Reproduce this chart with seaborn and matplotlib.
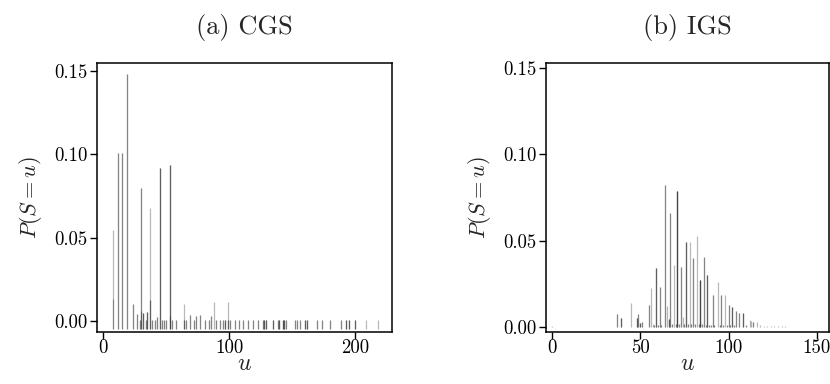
import numpy as np
import seaborn as sns
import matplotlib
matplotlib.use("Agg")
import matplotlib.pyplot as plt

# (a) CGS: sum value u, probability, number of overlapping components at u
u_a = [8, 8, 12, 15, 19, 24, 27, 29, 30, 30, 32, 34, 35, 37, 37, 39, 41, 43, 45, 47,
       48, 50, 53, 53, 55, 58, 64, 64, 66, 69, 72, 74, 77, 81, 84, 86, 88, 90, 93, 95,
       97, 99, 99, 101, 105, 108, 111, 115, 119, 123, 127, 128, 129, 135, 139, 140,
       143, 144, 145, 152, 154, 156, 160, 162, 170, 174, 180, 189, 193, 195, 200, 209, 218]
p_a = [0.0546, 0.0136, 0.1006, 0.1006, 0.148, 0.0106, 0.0042, 0.001, 0.080, 0.0062,
       0.005, 0.001, 0.0056, 0.068, 0.013, 0.001, 0.001, 0.0026, 0.092, 0.001,
       0.001, 0.001, 0.0934, 0.003, 0.001, 0.001, 0.0106, 0.001, 0.0005, 0.0036,
       0.0005, 0.003, 0.0036, 0.0005, 0.0008, 0.003, 0.0116, 0.0005, 0.0005, 0.0005,
       0.0005, 0.0116, 0.0005, 0.0005, 0.0005, 0.0005, 0.0005, 0.0005, 0.0005, 0.0005,
       0.0005, 0.0005, 0.0005, 0.0005, 0.0005, 0.0005, 0.0005, 0.0005, 0.0005, 0.0005,
       0.0005, 0.0005, 0.0005, 0.0005, 0.0005, 0.0005, 0.0005, 0.0005, 0.0005, 0.0005,
       0.0005, 0.0005, 0.0005]
n_a = [1, 1, 2, 2, 2, 2, 2, 2, 2, 1, 3, 2, 3, 1, 2, 2, 2, 2, 3, 2,
       2, 2, 3, 1, 2, 2, 1, 2, 2, 2, 2, 2, 2, 2, 2, 2, 1, 2, 2, 2,
       3, 1, 2, 2, 2, 2, 2, 2, 2, 2, 2, 3, 3, 3, 2, 3, 3, 3, 2, 2,
       2, 2, 3, 3, 2, 2, 2, 2, 3, 3, 3, 1, 1]

# (b) IGS
u_b = [0, 37, 39, 45, 48, 49, 50, 51, 55, 56, 57, 58, 59, 60, 61, 62, 64, 65, 66, 67,
       68, 69, 70, 71, 72, 73, 74, 75, 76, 77, 78, 79, 80, 81, 82, 83, 84, 85, 86, 87,
       88, 89, 90, 91, 92, 94, 95, 96, 97, 98, 99, 100, 101, 102, 103, 104, 106, 108,
       110, 112, 113, 114, 116, 118, 120, 122, 124, 126, 128, 130, 132]
p_b = [0.0005, 0.0079, 0.0052, 0.014, 0.0052, 0.0079, 0.0025, 0.003, 0.013, 0.0225,
       0.002, 0.001, 0.034, 0.001, 0.0235, 0.001, 0.0823, 0.012, 0.005, 0.066,
       0.002, 0.036, 0.002, 0.079, 0.002, 0.035, 0.006, 0.002, 0.049, 0.002,
       0.049, 0.002, 0.040, 0.002, 0.053, 0.002, 0.0275, 0.002, 0.0405, 0.001,
       0.030, 0.001, 0.001, 0.0185, 0.001, 0.026, 0.001, 0.0187, 0.001, 0.0187,
       0.001, 0.013, 0.001, 0.0115, 0.001, 0.0096, 0.0083, 0.0083, 0.001, 0.0044,
       0.0035, 0.0032, 0.003, 0.0015, 0.0008, 0.0008, 0.0008, 0.0006, 0.0006, 0.0005, 0.0005]
n_b = [1, 2, 3, 1, 3, 2, 3, 2, 2, 1, 1, 2, 3, 2, 2, 2, 2, 1, 3, 2,
       2, 1, 2, 4, 2, 2, 1, 2, 3, 2, 1, 2, 2, 2, 1, 2, 4, 2, 2, 2,
       3, 2, 2, 2, 2, 1, 2, 2, 2, 1, 2, 2, 2, 3, 2, 2, 2, 3, 2, 1,
       1, 2, 1, 1, 1, 1, 1, 1, 1, 1, 1]

titles = ["(a) CGS", "(b) IGS"]
xticks_a = [0, 100, 200]
xticks_b = [0, 50, 100, 150]
yticks = [0.00, 0.05, 0.10, 0.15]
ytick_labels = ["0.00", "0.05", "0.10", "0.15"]

sns.set_theme(style="ticks")
plt.rcParams["font.family"] = ["cmr10", "DejaVu Serif"]
plt.rcParams["mathtext.fontset"] = "cm"
plt.rcParams["axes.unicode_minus"] = False
plt.rcParams["axes.formatter.use_mathtext"] = True

fig = plt.figure(figsize=(8.3, 3.84), dpi=100)
ax_a = fig.add_axes([0.1169, 0.1354, 0.3554, 0.7006])
ax_b = fig.add_axes([0.6578, 0.1354, 0.341, 0.7006])

panels = [
    (ax_a, u_a, p_a, n_a, -0.0044, (-4.8, 229.4), (-0.0064, 0.1548), xticks_a),
    (ax_b, u_b, p_b, n_b, 0.0, (-3.4, 156.9), (-0.0028, 0.1528), xticks_b),
]

for i, (ax, u, p, n, base, xl, yl, xt) in enumerate(panels):
    uu = np.repeat(u, n)
    pp = np.repeat(p, n)
    ax.vlines(uu, base, pp, colors="black", alpha=0.28, linewidth=0.9)
    ax.set_xlim(*xl)
    ax.set_ylim(*yl)
    ax.set_xticks(xt)
    ax.set_xticklabels([str(v) for v in xt])
    ax.set_yticks(yticks)
    ax.set_yticklabels(ytick_labels)
    ax.tick_params(direction="out", length=5, width=1.0, colors="black",
                   labelsize=13.5, pad=2)
    ax.tick_params(axis="x", pad=0)
    for s in ax.spines.values():
        s.set_linewidth(1.1)
        s.set_color("black")
    ax.set_title(titles[i], fontsize=19, pad=21)
    ax.set_xlabel(r"$u$", fontsize=17, labelpad=-3)
    ax.set_ylabel(r"$P(S=u)$", fontsize=16, labelpad=7)

fig.savefig("out.png", dpi=100)
